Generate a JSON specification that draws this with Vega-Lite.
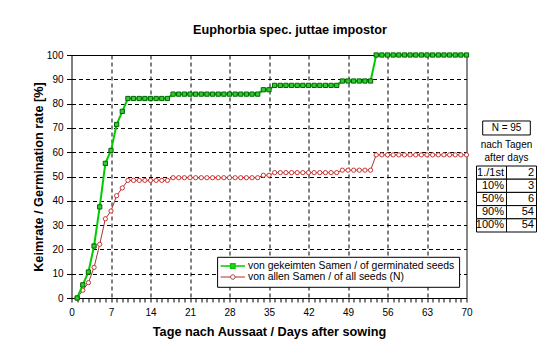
{
  "$schema": "https://vega.github.io/schema/vega-lite/v6.json",
  "background": "#ffffff",
  "padding": {"left": 31.5, "top": 23, "right": 4, "bottom": 4},
  "config": {
    "font": "Liberation Sans",
    "view": {"stroke": null},
    "axis": {"labelFont": "Liberation Sans", "titleFont": "Liberation Sans", "labelColor": "#000000", "titleColor": "#000000", "domainColor": "#000000", "tickColor": "#000000", "domainWidth": 1, "tickWidth": 1}
  },
  "datasets": {
    "germ": [
      {"d":1,"g":0,"a":0},{"d":2,"g":5.4,"a":3.2},{"d":3,"g":10.7,"a":6.3},{"d":4,"g":21.4,"a":12.6},{"d":5,"g":37.5,"a":22.1},
      {"d":6,"g":55.4,"a":32.6},{"d":7,"g":60.7,"a":35.8},{"d":8,"g":71.4,"a":42.1},{"d":9,"g":76.8,"a":45.3},{"d":10,"g":82.1,"a":48.4},
      {"d":11,"g":82.1,"a":48.4},{"d":12,"g":82.1,"a":48.4},{"d":13,"g":82.1,"a":48.4},{"d":14,"g":82.1,"a":48.4},{"d":15,"g":82.1,"a":48.4},
      {"d":16,"g":82.1,"a":48.4},{"d":17,"g":82.1,"a":48.4},{"d":18,"g":83.9,"a":49.5},{"d":19,"g":83.9,"a":49.5},{"d":20,"g":83.9,"a":49.5},
      {"d":21,"g":83.9,"a":49.5},{"d":22,"g":83.9,"a":49.5},{"d":23,"g":83.9,"a":49.5},{"d":24,"g":83.9,"a":49.5},{"d":25,"g":83.9,"a":49.5},
      {"d":26,"g":83.9,"a":49.5},{"d":27,"g":83.9,"a":49.5},{"d":28,"g":83.9,"a":49.5},{"d":29,"g":83.9,"a":49.5},{"d":30,"g":83.9,"a":49.5},
      {"d":31,"g":83.9,"a":49.5},{"d":32,"g":83.9,"a":49.5},{"d":33,"g":83.9,"a":49.5},{"d":34,"g":85.7,"a":50.5},{"d":35,"g":85.7,"a":50.5},
      {"d":36,"g":87.5,"a":51.6},{"d":37,"g":87.5,"a":51.6},{"d":38,"g":87.5,"a":51.6},{"d":39,"g":87.5,"a":51.6},{"d":40,"g":87.5,"a":51.6},
      {"d":41,"g":87.5,"a":51.6},{"d":42,"g":87.5,"a":51.6},{"d":43,"g":87.5,"a":51.6},{"d":44,"g":87.5,"a":51.6},{"d":45,"g":87.5,"a":51.6},
      {"d":46,"g":87.5,"a":51.6},{"d":47,"g":87.5,"a":51.6},{"d":48,"g":89.3,"a":52.6},{"d":49,"g":89.3,"a":52.6},{"d":50,"g":89.3,"a":52.6},
      {"d":51,"g":89.3,"a":52.6},{"d":52,"g":89.3,"a":52.6},{"d":53,"g":89.3,"a":52.6},{"d":54,"g":100,"a":58.9},{"d":55,"g":100,"a":58.9},
      {"d":56,"g":100,"a":58.9},{"d":57,"g":100,"a":58.9},{"d":58,"g":100,"a":58.9},{"d":59,"g":100,"a":58.9},{"d":60,"g":100,"a":58.9},
      {"d":61,"g":100,"a":58.9},{"d":62,"g":100,"a":58.9},{"d":63,"g":100,"a":58.9},{"d":64,"g":100,"a":58.9},{"d":65,"g":100,"a":58.9},
      {"d":66,"g":100,"a":58.9},{"d":67,"g":100,"a":58.9},{"d":68,"g":100,"a":58.9},{"d":69,"g":100,"a":58.9},{"d":70,"g":100,"a":58.9}
    ],
    "table": [
      {"r":"1","k":"1./1st","v":2},
      {"r":"2","k":"10%","v":3},
      {"r":"3","k":"50%","v":6},
      {"r":"4","k":"90%","v":54},
      {"r":"5","k":"100%","v":54}
    ],
    "side": [
      {"r":"N","t":"N = 95"},
      {"r":"h","t":"nach Tagen\nafter days"}
    ]
  },
  "spacing": 10,
  "bounds": "flush",
  "hconcat": [
    {
      "width": 395,
      "height": 243,
      "title": {"text": "Euphorbia spec. juttae impostor", "fontSize": 12.7, "fontWeight": "bold", "font": "Liberation Sans", "color": "#000000", "anchor": "middle", "dx": 21, "offset": 13.7},
      "data": {"name": "germ"},
      "transform": [{"fold": ["a", "g"], "as": ["s", "v"]}],
      "encoding": {
        "x": {
          "field": "d", "type": "quantitative",
          "scale": {"domain": [0, 70], "nice": false, "zero": true},
          "axis": {
            "title": "Tage nach Aussaat / Days after sowing",
            "titleFontSize": 12.7, "titleFontWeight": "bold", "titlePadding": 8,
            "labelFontSize": 10, "labelPadding": 5, "tickSize": 4, "tickCount": 70,
            "labelExpr": "datum.value % 7 === 0 ? datum.label : ''",
            "labelOverlap": false, "labelFlush": false,
            "grid": true,
            "gridColor": {"condition": {"test": "datum.value === 70", "value": "#888888"}, "value": "#000000"},
            "gridWidth": {"condition": {"test": "datum.value === 70", "value": 2}, "value": 1},
            "gridDash": {"condition": {"test": "datum.value === 70", "value": [1, 0]}, "value": [4, 3]},
            "gridOpacity": {"condition": {"test": "datum.value % 7 === 0 && datum.value > 0", "value": 1}, "value": 0}
          }
        },
        "y": {
          "field": "v", "type": "quantitative",
          "scale": {"domain": [0, 100], "nice": false},
          "axis": {
            "title": "Keimrate / Germination rate [%]",
            "titleFontSize": 12.7, "titleFontWeight": "bold", "titlePadding": 1,
            "labelFontSize": 10, "labelPadding": 3.5, "tickSize": 5, "tickCount": 10,
            "grid": true, "gridColor": "#000000",
            "gridDash": {"condition": {"test": "datum.value === 100", "value": [1, 0]}, "value": [4, 3]},
            "gridOpacity": {"condition": {"test": "datum.value === 0", "value": 0}, "value": 1}
          }
        }
      },
      "layer": [
        {
          "transform": [{"filter": "datum.s === 'a'"}],
          "mark": {"type": "line", "strokeWidth": 1},
          "encoding": {
            "color": {
              "field": "s", "type": "nominal",
              "scale": {"domain": ["g", "a"], "range": ["#00cc00", "#aa3333"]},
              "legend": {
                "orient": "none", "legendX": 145.6, "legendY": 201.8,
                "title": null, "padding": 4,
                "strokeColor": "#000000", "fillColor": "#ffffff",
                "labelFont": "Liberation Sans", "labelFontSize": 10.4, "labelColor": "#000000", "labelLimit": 400,
                "symbolSize": 100, "symbolOffset": 6.5, "labelOffset": 10, "rowPadding": 0,
                "labelExpr": "datum.value === 'g' ? 'von gekeimten Samen / of germinated seeds' : 'von allen Samen / of all seeds (N)'",
                "encode": {
                  "symbols": {
                    "update": {
                      "shape": {"signal": "datum.value === 'g' ? 'M-2.44,0H-0.44M0.44,0H2.44M-0.44,-0.44H0.44V0.44H-0.44Z' : 'M-2.44,0H-0.45M0.45,0H2.44M-0.45,0A0.45,0.45,0,1,0,0.45,0A0.45,0.45,0,1,0,-0.45,0Z'"},
                      "fill": {"signal": "datum.value === 'g' ? '#33cc33' : '#ffffff'"},
                      "strokeWidth": {"signal": "datum.value === 'g' ? 1.5 : 1"}
                    }
                  }
                }
              }
            }
          }
        },
        {
          "transform": [{"filter": "datum.s === 'a'"}],
          "mark": {"type": "point", "shape": "circle", "size": 18, "filled": true, "fill": "#ffffff", "stroke": "#cc3333", "strokeWidth": 1, "opacity": 1}
        },
        {
          "transform": [{"filter": "datum.s === 'g'"}],
          "mark": {"type": "line", "strokeWidth": 2},
          "encoding": {"color": {"field": "s", "type": "nominal"}}
        },
        {
          "transform": [{"filter": "datum.s === 'g'"}],
          "mark": {"type": "point", "shape": "square", "size": 18, "filled": true, "fill": "#33cc33", "stroke": "#006600", "strokeWidth": 1, "opacity": 1}
        }
      ]
    },
    {
      "width": 60,
      "height": 243,
      "layer": [
        {
          "data": {"name": "table"},
          "transform": [{"fold": ["k", "v"], "as": ["col", "txt"]}],
          "mark": {"type": "rect", "fill": "#ffffff", "stroke": "#000000", "strokeWidth": 1},
          "encoding": {
            "x": {"field": "col", "type": "nominal", "scale": {"domain": ["k", "v"], "paddingInner": 0, "paddingOuter": 0}, "axis": null},
            "y": {"field": "r", "type": "nominal", "scale": {"domain": ["N", "h", "x", "1", "2", "3", "4", "5"], "range": [71.4, 177], "paddingInner": 0, "paddingOuter": 0}, "axis": null}
          }
        },
        {
          "data": {"name": "table"},
          "transform": [{"fold": ["k", "v"], "as": ["col", "txt"]}],
          "mark": {"type": "text", "align": "right", "baseline": "middle", "dx": -2.5, "fontSize": 11, "font": "Liberation Sans", "color": "#000000"},
          "encoding": {
            "x": {"field": "col", "type": "nominal", "bandPosition": 1, "axis": null},
            "y": {"field": "r", "type": "nominal", "axis": null},
            "text": {"field": "txt", "type": "nominal"}
          }
        },
        {
          "data": {"name": "side"},
          "transform": [{"filter": "datum.r === 'N'"}],
          "mark": {"type": "point", "shape": "M-1,-0.294H1V0.294H-1Z", "size": 2266, "filled": true, "fill": "#ffffff", "stroke": "#000000", "strokeWidth": 1, "opacity": 1},
          "encoding": {"y": {"field": "r", "type": "nominal", "bandPosition": 0.12, "axis": null}}
        },
        {
          "data": {"name": "side"},
          "transform": [{"filter": "datum.r === 'N'"}],
          "mark": {"type": "text", "baseline": "middle", "align": "center", "fontSize": 10, "font": "Liberation Sans", "color": "#000000"},
          "encoding": {
            "y": {"field": "r", "type": "nominal", "bandPosition": 0.12, "axis": null},
            "text": {"field": "t", "type": "nominal"}
          }
        },
        {
          "data": {"name": "side"},
          "transform": [{"filter": "datum.r === 'h'"}],
          "mark": {"type": "text", "baseline": "top", "align": "center", "fontSize": 10, "font": "Liberation Sans", "color": "#000000", "lineBreak": "\n", "lineHeight": 13},
          "encoding": {
            "y": {"field": "r", "type": "nominal", "bandPosition": 0, "axis": null},
            "text": {"field": "t", "type": "nominal"}
          }
        }
      ]
    }
  ]
}
